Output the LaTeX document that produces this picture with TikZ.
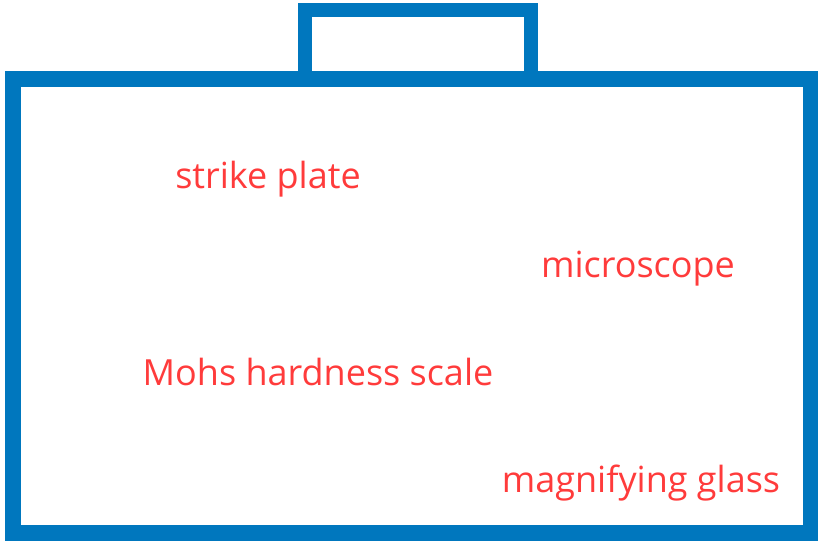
\documentclass[tikz,border=0pt]{standalone}
\usepackage{fontspec}
\setmainfont{Open Sans}
\definecolor{caseblue}{HTML}{0077BE}
\definecolor{labelred}{HTML}{FF3B3B}

\begin{document}
\begin{tikzpicture}[x=0.75pt, y=-0.75pt,
    item/.style={text=labelred, font=\fontsize{27}{32}\selectfont, anchor=base, inner sep=0pt}]
    \useasboundingbox (0,0) rectangle (818,541);
    % handle and case
    \draw[caseblue, line width=10.5pt] (305,79) -- (305,10) -- (531,10) -- (531,79);
    \draw[caseblue, line width=12pt] (13,79) rectangle (810.5,533);
    % tools in the case
    \node[item] (strike) at (268,189) {strike plate};
    \node[item] (micro) at (638,278) {microscope};
    \node[item] (mohs) at (318,386) {Mohs hardness scale};
    \node[item] (glass) at (641,493) {magnifying glass};
\end{tikzpicture}
\end{document}
